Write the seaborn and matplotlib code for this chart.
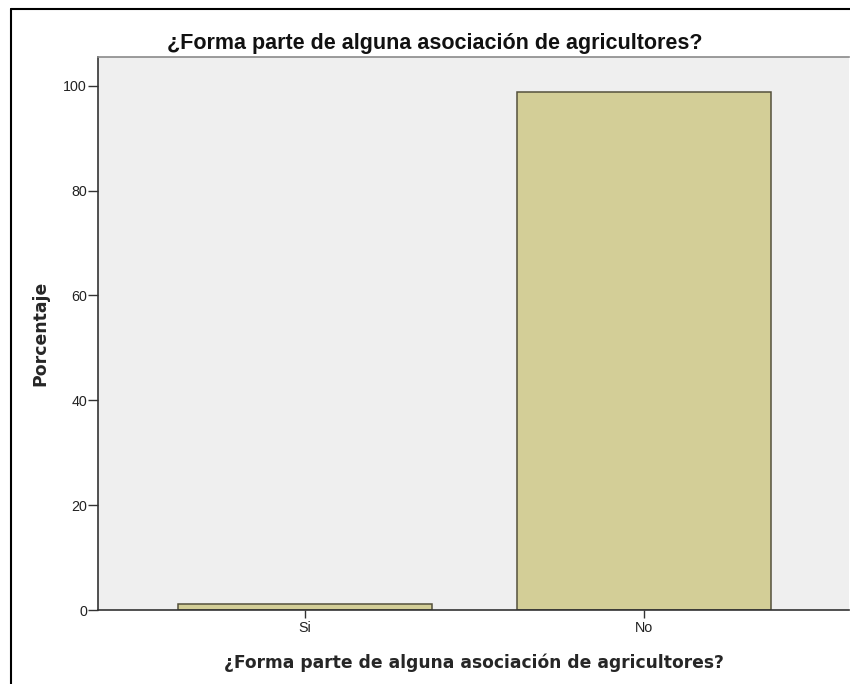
import matplotlib
matplotlib.use("Agg")
import matplotlib.pyplot as plt
import seaborn as sns
import pandas as pd
from matplotlib.lines import Line2D

categories = ["Si", "No"]
percentages = [1.2, 98.8]
yticks = [0, 20, 40, 60, 80, 100]
title = "¿Forma parte de alguna asociación de agricultores?"
xlabel = "¿Forma parte de alguna asociación de agricultores?"
ylabel = "Porcentaje"

df = pd.DataFrame({"cat": categories, "pct": percentages})

sns.set_theme(style="white")
plt.rcParams['font.family'] = ['Liberation Sans', 'DejaVu Sans']

fig = plt.figure(figsize=(8.5, 6.84), dpi=100)
ax = fig.add_axes([98/850, 74/684, (849-98)/850, (610-57)/684])
ax.set_facecolor("#efefef")

sns.barplot(data=df, x="cat", y="pct", order=categories, color="#d3ce97",
            saturation=1, width=0.752, edgecolor="#55513c", linewidth=1.1, ax=ax)

ax.set_xlim(-0.611, 1.605)
ax.set_ylim(0, 105.5)
ax.set_yticks(yticks)
ax.set_yticklabels([str(t) for t in yticks], fontsize=10.3, color="#222222")
ax.set_xticks(range(len(categories)))
ax.set_xticklabels(categories, fontsize=10.3, color="#222222")
ax.tick_params(axis="y", direction="out", length=7, width=1, color="#333333", pad=1, left=True)
ax.tick_params(axis="x", direction="out", length=6, width=1, color="#333333", pad=2, bottom=True)

ax.set_xlabel(xlabel, fontsize=12.3, fontweight="bold", family=["DejaVu Sans"], labelpad=13)
ax.set_ylabel(ylabel, fontsize=12.4, fontweight="bold", family=["DejaVu Sans"], labelpad=10)

for s in ["left", "bottom"]:
    ax.spines[s].set_color("#333333")
    ax.spines[s].set_linewidth(1.2)
ax.spines["top"].set_color("#8a8a8a")
ax.spines["top"].set_linewidth(1.2)
ax.spines["right"].set_visible(False)

fig.text(435/850, 1 - 43/684, title, ha="center", va="center", fontsize=15.5,
         fontweight="bold", color="#111111")

# outer chart frame (top and left edges visible)
fig.add_artist(Line2D([11/850, 11/850], [0, 1 - 9/684], transform=fig.transFigure,
                      color="black", linewidth=1.5))
fig.add_artist(Line2D([11/850, 1], [1 - 9/684, 1 - 9/684], transform=fig.transFigure,
                      color="black", linewidth=1.5))

fig.savefig("out.png", dpi=100)
